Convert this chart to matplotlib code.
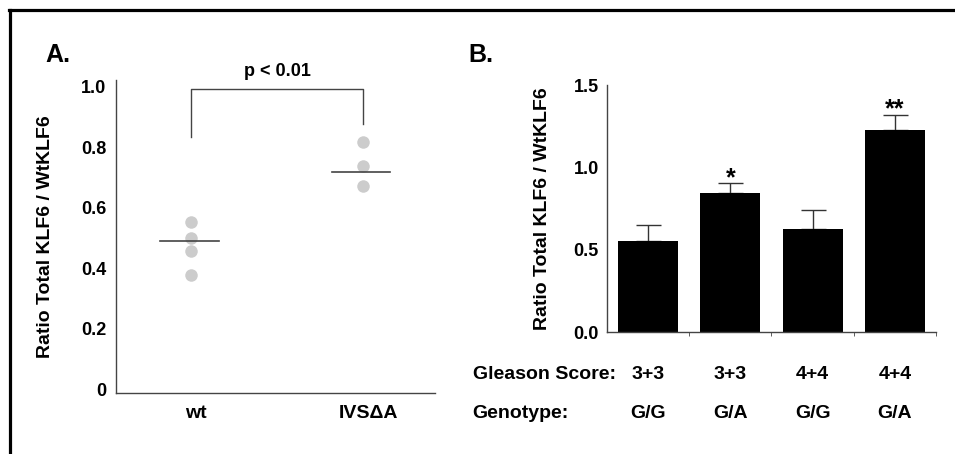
import matplotlib
matplotlib.use("Agg")
import matplotlib.pyplot as plt
from matplotlib.lines import Line2D
from matplotlib.transforms import blended_transform_factory
import numpy as np

plt.rcParams["font.family"] = ["Liberation Sans", "DejaVu Sans"]
plt.rcParams["font.weight"] = "bold"

# panel A: individual ratios per group
groups_a = ["wt", "IVS\u0394A"]
wt_vals = [0.554, 0.501, 0.458, 0.379]
ivs_vals = [0.818, 0.738, 0.673]
group_means = [0.491, 0.719]
bracket_left, bracket_right, bracket_top = 0.834, 0.877, 0.993
p_text = "p < 0.01"

# panel B: mean ratio and error by Gleason score / genotype
gleason = ["3+3", "3+3", "4+4", "4+4"]
genotype = ["G/G", "G/A", "G/G", "G/A"]
bar_vals = [0.552, 0.842, 0.625, 1.226]
bar_err = [0.096, 0.061, 0.114, 0.095]
stars = ["", "*", "", "**"]

ylabel = "Ratio Total KLF6 / WtKLF6"
axis_col = "#444444"

fig = plt.figure(figsize=(9.55, 4.54), dpi=100)

# ---- panel A
ax = fig.add_axes([0.1215, 0.135, 0.334, 0.6888])
for i, vals in enumerate([wt_vals, ivs_vals]):
    ax.plot([i] * len(vals), vals, "o", color="#cccccc", ms=9, mec="none", zorder=2)
    ax.plot([i - 0.18, i + 0.16], [group_means[i]] * 2, color=axis_col, lw=1.2, zorder=3)
ax.plot([0, 0, 1, 1], [bracket_left, bracket_top, bracket_top, bracket_right],
        color=axis_col, lw=1, clip_on=False)
ax.text(0.5, 1.049, p_text, ha="center", va="center", fontsize=13,
        fontweight="bold", clip_on=False)
ax.set_xlim(-0.436, 1.419)
ax.set_ylim(-0.011, 1.022)
ax.set_xticks([0.03, 1.03])
ax.set_xticklabels(groups_a, fontsize=14, fontweight="bold")
ax.set_yticks([0, 0.2, 0.4, 0.6, 0.8, 1.0])
ax.set_yticklabels(["0", "0.2", "0.4", "0.6", "0.8", "1.0"], fontsize=13, fontweight="bold")
ax.tick_params(axis="x", length=0, pad=9)
ax.tick_params(axis="y", length=0, pad=7)
for s in ["top", "right"]:
    ax.spines[s].set_visible(False)
for s in ["left", "bottom"]:
    ax.spines[s].set_color(axis_col)
    ax.spines[s].set_linewidth(1)
ax.set_ylabel(ylabel, fontsize=14, fontweight="bold")
ax.yaxis.set_label_coords(-0.194, 0.5)

# ---- panel B
bx = fig.add_axes([0.6356, 0.2687, 0.3445, 0.544])
x = np.arange(len(bar_vals))
bx.bar(x, bar_vals, width=0.73, color="black", zorder=2)
bx.errorbar(x, bar_vals, yerr=[np.zeros(len(bar_err)), bar_err], fmt="none",
            ecolor="#333333", elinewidth=1, capsize=9, capthick=1, zorder=1)
for xi, v, e, s in zip(x, bar_vals, bar_err, stars):
    if s:
        bx.text(xi, v + e - 0.01, s, ha="center", va="baseline", fontsize=18,
                fontweight="bold")
bx.set_xlim(-0.5, 3.5)
bx.set_ylim(0, 1.5)
bx.set_yticks([0, 0.5, 1.0, 1.5])
bx.set_yticklabels(["0.0", "0.5", "1.0", "1.5"], fontsize=13, fontweight="bold")
bx.set_yticks([1.5], minor=True)
bx.set_xticks([])
bx.set_xticks([0.5, 1.5, 2.5, 3.5], minor=True)
bx.tick_params(axis="y", which="major", length=0, pad=6)
bx.tick_params(axis="y", which="minor", direction="in", length=4, color=axis_col)
bx.tick_params(axis="x", which="minor", direction="out", length=3, color=axis_col)
for s in ["top", "right"]:
    bx.spines[s].set_visible(False)
for s in ["left", "bottom"]:
    bx.spines[s].set_color(axis_col)
    bx.spines[s].set_linewidth(1)
bx.set_ylabel(ylabel, fontsize=14, fontweight="bold")
bx.yaxis.set_label_coords(-0.170, 0.5)

tr = blended_transform_factory(bx.transData, fig.transFigure)
for xi, g, t in zip(x, gleason, genotype):
    bx.text(xi, 0.176, g, transform=tr, ha="center", va="center", fontsize=14,
            fontweight="bold")
    bx.text(xi, 0.0903, t, transform=tr, ha="center", va="center", fontsize=14,
            fontweight="bold")
fig.text(0.495, 0.176, "Gleason Score:", ha="left", va="center", fontsize=14,
         fontweight="bold")
fig.text(0.495, 0.0903, "Genotype:", ha="left", va="center", fontsize=14,
         fontweight="bold")

# panel letters
fig.text(0.047, 0.879, "A.", ha="left", va="center", fontsize=18, fontweight="bold")
fig.text(0.49, 0.879, "B.", ha="left", va="center", fontsize=18, fontweight="bold")

# frame (top and left edges visible)
fig.add_artist(Line2D([0.0105, 0.0105], [0.0, 0.979], color="black", lw=2.3,
                      transform=fig.transFigure))
fig.add_artist(Line2D([0.0095, 1.0], [0.979, 0.979], color="black", lw=2.3,
                      transform=fig.transFigure))

fig.savefig("out.png", dpi=100)
